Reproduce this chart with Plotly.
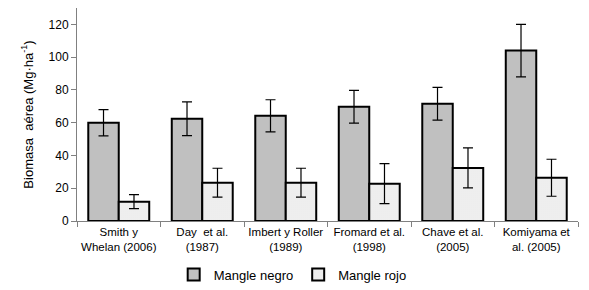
import plotly.graph_objects as go

estudios = ["Smith y<br>Whelan (2006)", "Day  et al.<br>(1987)", "Imbert y Roller<br>(1989)",
            "Fromard et al.<br>(1998)", "Chave et al.<br>(2005)", "Komiyama et<br>al. (2005)"]
negro = [60, 62.4, 64.2, 69.7, 71.6, 104]
negro_err = [8, 10.3, 9.8, 10, 10, 16]
rojo = [11.8, 23.4, 23.4, 22.8, 32.4, 26.4]
rojo_err = [4.3, 8.8, 8.8, 12.2, 12.2, 11.3]

font = "Liberation Sans, Arial, sans-serif"

fig = go.Figure()
fig.add_trace(go.Bar(
    x=estudios, y=negro, name="Mangle negro",
    marker=dict(color="#c0c0c0", line=dict(color="black", width=2)),
    error_y=dict(type="data", array=negro_err, color="black", thickness=1.2, width=5),
))
fig.add_trace(go.Bar(
    x=estudios, y=rojo, name="Mangle rojo",
    marker=dict(color="#ececec", line=dict(color="black", width=2),
                pattern=dict(shape=".", size=2, solidity=0.3, fgcolor="#dcdcdc", bgcolor="#f0f0f0")),
    error_y=dict(type="data", array=rojo_err, color="black", thickness=1.2, width=5),
))

# page body has an 8px margin, so the figure is drawn 8px smaller
fig.update_layout(
    width=581, height=282,
    margin=dict(l=69, r=11, t=0, b=69, autoexpand=False),
    plot_bgcolor="white", paper_bgcolor="white",
    barmode="group", bargap=0.27, bargroupgap=0,
    font=dict(family=font, size=12, color="black"),
    showlegend=True,
    legend=dict(orientation="h", x=0.49, xanchor="center", xref="container",
                y=0.055, yanchor="middle", yref="container",
                font=dict(size=13), itemwidth=30, traceorder="normal", tracegroupgap=0),
)
fig.update_xaxes(
    showline=True, linecolor="#808080", linewidth=1,
    ticks="outside", tickson="boundaries", ticklen=5, tickcolor="#808080",
    tickfont=dict(size=11.5), tickangle=0, showgrid=False,
)
fig.update_yaxes(
    range=[0, 130], tickvals=[0, 20, 40, 60, 80, 100, 120],
    showline=True, linecolor="#808080", linewidth=1,
    ticks="outside", ticklen=5, tickcolor="#808080", showgrid=False,
    title=dict(text="Biomasa  aérea (Mg·ha<sup>-1</sup>)", font=dict(size=13), standoff=12),
    tickfont=dict(size=12),
)

fig.write_html("out.html")
